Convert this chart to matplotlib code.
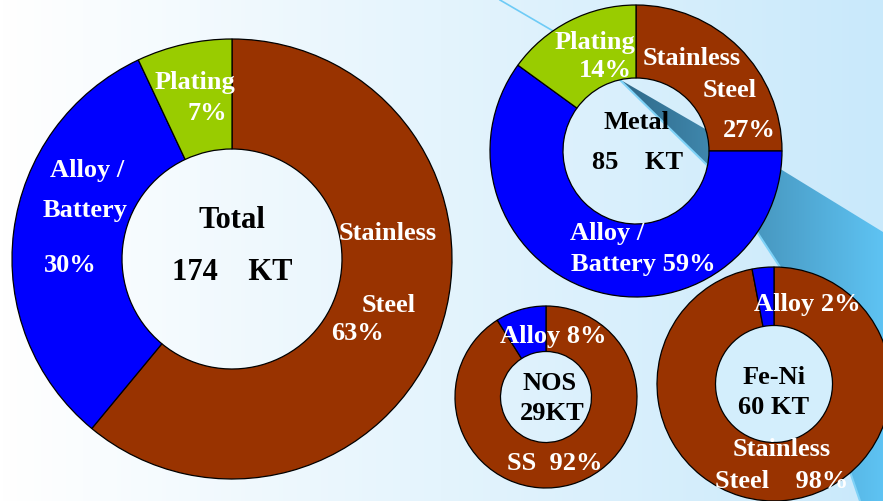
import numpy as np
import matplotlib
matplotlib.use("Agg")
import matplotlib.pyplot as plt
from matplotlib.patches import Polygon, Circle

# Data (label values as printed, slice shares as drawn in the picture)
total_kt = 174
total_names = ["Stainless Steel", "Alloy / Battery", "Plating"]
total_pct = [63, 30, 7]
total_share = [61, 32, 7]

metal_kt = 85
metal_names = ["Stainless Steel", "Alloy / Battery", "Plating"]
metal_pct = [27, 59, 14]
metal_share = [25, 60, 15]

nos_kt = 29
nos_names = ["SS", "Alloy"]
nos_pct = [92, 8]
nos_share = [91, 9]

feni_kt = 60
feni_names = ["Stainless Steel", "Alloy"]
feni_pct = [98, 2]
feni_share = [97, 3]

BROWN = "#993300"
BLUE = "#0000FF"
GREEN = "#99CC00"
colour_of = {"Stainless Steel": BROWN, "SS": BROWN,
             "Alloy / Battery": BLUE, "Alloy": BLUE, "Plating": GREEN}

W, H = 883, 501
fig = plt.figure(figsize=(W / 100, H / 100), dpi=100)
ax = fig.add_axes([0, 0, 1, 1])


def P(x, y):
    # pixel position (y from top) -> data coords
    return x, H - y


# background gradient
grad = np.linspace(0, 1, 256)[None, :, None]
left = np.array([1.0, 1.0, 1.0])
right = np.array([0xC9, 0xE9, 0xFB]) / 255
ax.imshow(left + (right - left) * grad, extent=(0, W, 0, H), aspect="auto", zorder=0)

# decorative swoosh
swoosh = [P(619, 79), P(707, 130), P(782, 170), P(883, 232), P(883, 501),
          P(860, 501), P(780, 267), P(757, 232), P(707, 165)]
poly = Polygon(swoosh, closed=True, facecolor="none", edgecolor="none")
ax.add_patch(poly)
c0 = np.array([0x2F, 0x68, 0x88]) / 255
c1 = np.array([0x5E, 0xC3, 0xF3]) / 255
g2 = np.linspace(0, 1, 256)[None, :, None]
img = ax.imshow(c0 + (c1 - c0) * g2, extent=(619, W, 0, H - 79), aspect="auto", zorder=1)
img.set_clip_path(poly)
lx, ly = zip(P(619, 79), P(707, 165), P(757, 232), P(780, 267), P(860, 501))
ax.plot(lx, ly, color="#7FD2F7", lw=1.5, zorder=1)
tx, ty = zip(P(500, 0), P(560, 35), P(619, 79))
ax.plot(tx, ty, color="#6ECBF6", lw=1.2, zorder=1)


def donut(values, names, cx, cy, r, hole=None):
    if hole:
        ax.add_patch(Circle(P(cx, cy), r * 0.5, facecolor=hole, edgecolor="none", zorder=1.5))
    ax.pie(values, colors=[colour_of[n] for n in names], center=P(cx, cy), radius=r,
           startangle=90, counterclock=False, frame=True,
           wedgeprops=dict(width=r * 0.5, edgecolor="black", linewidth=0.9, zorder=2))


donut(total_share, total_names, 232, 259, 220)
donut(metal_share, metal_names, 636, 151, 146)
donut(nos_share, nos_names, 546, 397, 91)
donut(feni_share, feni_names, 774, 384, 117, hole="#D3EEFC")

font = dict(family="Liberation Serif", weight="bold", ha="center", va="center", zorder=3)


def label(x, y, s, size=19, color="white"):
    ax.text(*P(x, y), s, fontsize=size, color=color, **font)


# Total
label(195, 82, "Plating")
label(207, 113, f"{total_pct[2]}%")
label(87, 170, "Alloy /")
label(85, 210, "Battery")
label(70, 265, f"{total_pct[1]}%")
label(388, 233, "Stainless")
label(389, 305, "Steel")
label(358, 333, f"{total_pct[0]}%")
label(232, 220, "Total", size=22, color="black")
label(232, 273, f"{total_kt}    KT", size=22, color="black")

# Metal
label(595, 42, "Plating")
label(605, 70, f"{metal_pct[2]}%")
label(692, 58, "Stainless")
label(730, 90, "Steel")
label(749, 130, f"{metal_pct[0]}%")
label(607, 233, "Alloy /")
label(643, 265, f"Battery {metal_pct[1]}%")
label(636, 122, "Metal", color="black")
label(638, 162, f"{metal_kt}    KT", color="black")

# NOS
label(553, 337, f"Alloy {nos_pct[1]}%")
label(550, 383, "NOS", color="black")
label(552, 414, f"{nos_kt}KT", color="black")
label(555, 463, f"SS  {nos_pct[0]}%")

# Fe-Ni
label(807, 304, f"Alloy {feni_pct[1]}%")
label(774, 377, "Fe-Ni", color="black")
label(774, 407, f"{feni_kt} KT", color="black")
label(782, 450, "Stainless")
label(782, 481, f"Steel    {feni_pct[0]}%")

ax.set_xlim(0, W)
ax.set_ylim(0, H)
ax.set_aspect("auto")
ax.axis("off")

fig.savefig("out.png", dpi=100)
